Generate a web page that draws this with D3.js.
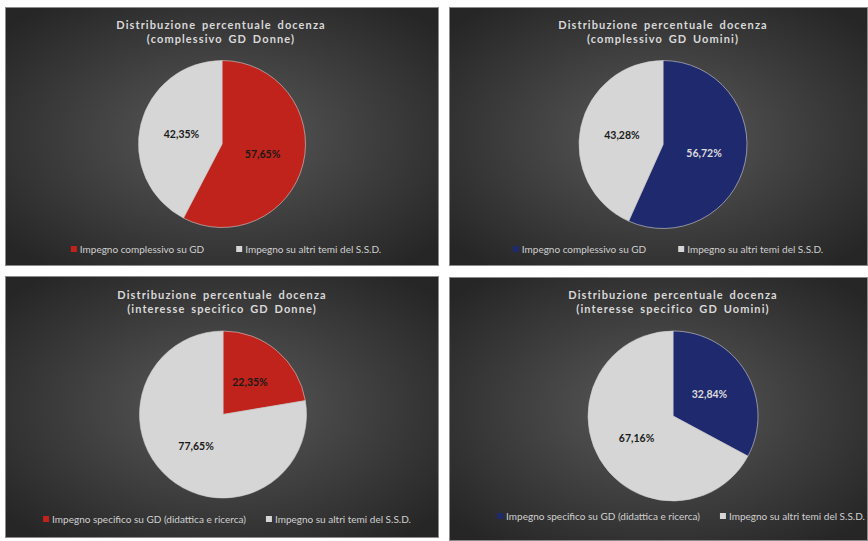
<!DOCTYPE html>
<html>
<head>
<meta charset="utf-8">
<script src="https://cdn.jsdelivr.net/npm/d3@7"></script>
<style>
  html, body { margin: 0; padding: 0; background: #ffffff; }
  svg { display: block; }
</style>
</head>
<body>
<svg id="chart" width="868" height="541"></svg>
<script>
// ---- data ----
const titleLine1 = ["Distribuzione percentuale docenza", "Distribuzione percentuale docenza", "Distribuzione percentuale docenza", "Distribuzione percentuale docenza"];
const titleLine2 = ["(complessivo GD Donne)", "(complessivo GD Uomini)", "(interesse specifico GD Donne)", "(interesse specifico GD Uomini)"];
const valuesGD = [57.65, 56.72, 22.35, 32.84];
const valuesOther = [42.35, 43.28, 77.65, 67.16];
const legendGD = ["Impegno complessivo su GD", "Impegno complessivo su GD", "Impegno specifico su GD (didattica e ricerca)", "Impegno specifico su GD (didattica e ricerca)"];
const legendOther = ["Impegno su altri temi del S.S.D.", "Impegno su altri temi del S.S.D.", "Impegno su altri temi del S.S.D.", "Impegno su altri temi del S.S.D."];
const gdColors = ["#c0231b", "#1f2a6e", "#c0231b", "#1f2a6e"];
const otherColor = "#d6d6d6";
const gdLabelColors = ["#1a1a1a", "#dcdcdc", "#1a1a1a", "#dcdcdc"];

// ---- layout (positions only) ----
const panels = [
  {x: 5,   y: 7,   w: 434, h: 259, cx: 222, cy: 144,   r: 83.5, tx: 221, ty: 29,  ly: 249, lx: 226, gap: 32},
  {x: 449, y: 7,   w: 419, h: 259, cx: 663, cy: 144.5, r: 84,   tx: 663, ty: 29,  ly: 249, lx: 668, gap: 32},
  {x: 5,   y: 276, w: 434, h: 262, cx: 223, cy: 414.5, r: 83.5, tx: 222, ty: 299, ly: 519, lx: 227, gap: 20},
  {x: 449, y: 277, w: 419, h: 264, cx: 673, cy: 416,   r: 85,   tx: 673, ty: 299, ly: 516, lx: 681, gap: 20}
];

const svg = d3.select("#chart");
const defs = svg.append("defs");
const grad = defs.append("radialGradient").attr("id", "bg")
  .attr("cx", "50%").attr("cy", "50%").attr("r", "65%");
grad.append("stop").attr("offset", "0%").attr("stop-color", "#5a5a5a");
grad.append("stop").attr("offset", "100%").attr("stop-color", "#262626");

const pie = d3.pie().sort(null).value(d => d.v).startAngle(0).endAngle(2 * Math.PI);

panels.forEach((p, i) => {
  const g = svg.append("g");
  g.append("rect")
    .attr("x", p.x + 0.5).attr("y", p.y + 0.5)
    .attr("width", p.w - 1).attr("height", p.h - 1)
    .attr("fill", "url(#bg)")
    .attr("stroke", "#8a8a8a").attr("stroke-width", 1);

  // title
  const title = g.append("text")
    .attr("x", p.tx).attr("y", p.ty)
    .attr("text-anchor", "middle")
    .attr("fill", "#d9d9d9")
    .style("font-family", "Lato, 'Open Sans', sans-serif")
    .style("font-weight", "bold")
    .style("font-size", "11px")
    .style("letter-spacing", "1.1px")
    .style("word-spacing", "2px");
  title.append("tspan").attr("x", p.tx).attr("dy", 0).text(titleLine1[i]);
  title.append("tspan").attr("x", p.tx).attr("dy", 14).text(titleLine2[i]);

  // pie
  const data = [
    {v: valuesGD[i], color: gdColors[i], lab: gdLabelColors[i]},
    {v: valuesOther[i], color: otherColor, lab: "#1a1a1a"}
  ];
  const arc = d3.arc().innerRadius(0).outerRadius(p.r);
  const arcs = pie(data);
  const pg = g.append("g").attr("transform", `translate(${p.cx},${p.cy})`);
  pg.selectAll("path").data(arcs).join("path")
    .attr("d", arc)
    .attr("fill", d => d.data.color)
    .attr("stroke", "#d0d0d0")
    .attr("stroke-width", 0.6);
  pg.selectAll("text").data(arcs).join("text")
    .attr("transform", d => `translate(${arc.centroid(d)})`)
    .attr("text-anchor", "middle")
    .attr("dy", "0.35em")
    .attr("fill", d => d.data.lab)
    .style("font-family", "Lato, 'Open Sans', sans-serif")
    .style("font-weight", "bold")
    .style("font-size", "10.5px")
    .text(d => d3.format(".2f")(d.data.v).replace(".", ",") + "%");

  // legend
  const items = [
    {label: legendGD[i], color: gdColors[i]},
    {label: legendOther[i], color: otherColor}
  ];
  const lg = g.append("g");
  const sq = 6, gapSq = 3;
  const texts = items.map(it => lg.append("text")
      .attr("y", p.ly).attr("dy", "0.35em")
      .attr("fill", "#d0d0d0")
      .style("font-family", "Lato, 'Open Sans', sans-serif")
      .style("font-size", "10px")
      .text(it.label));
  const widths = texts.map(t => t.node().getComputedTextLength());
  const total = widths.reduce((a, b) => a + b, 0) + 2 * (sq + gapSq) + p.gap;
  let x = p.lx - total / 2;
  items.forEach((it, k) => {
    lg.append("rect").attr("x", x).attr("y", p.ly - sq / 2).attr("width", sq).attr("height", sq).attr("fill", it.color);
    x += sq + gapSq;
    texts[k].attr("x", x);
    x += widths[k] + p.gap;
  });
});
</script>
</body>
</html>
